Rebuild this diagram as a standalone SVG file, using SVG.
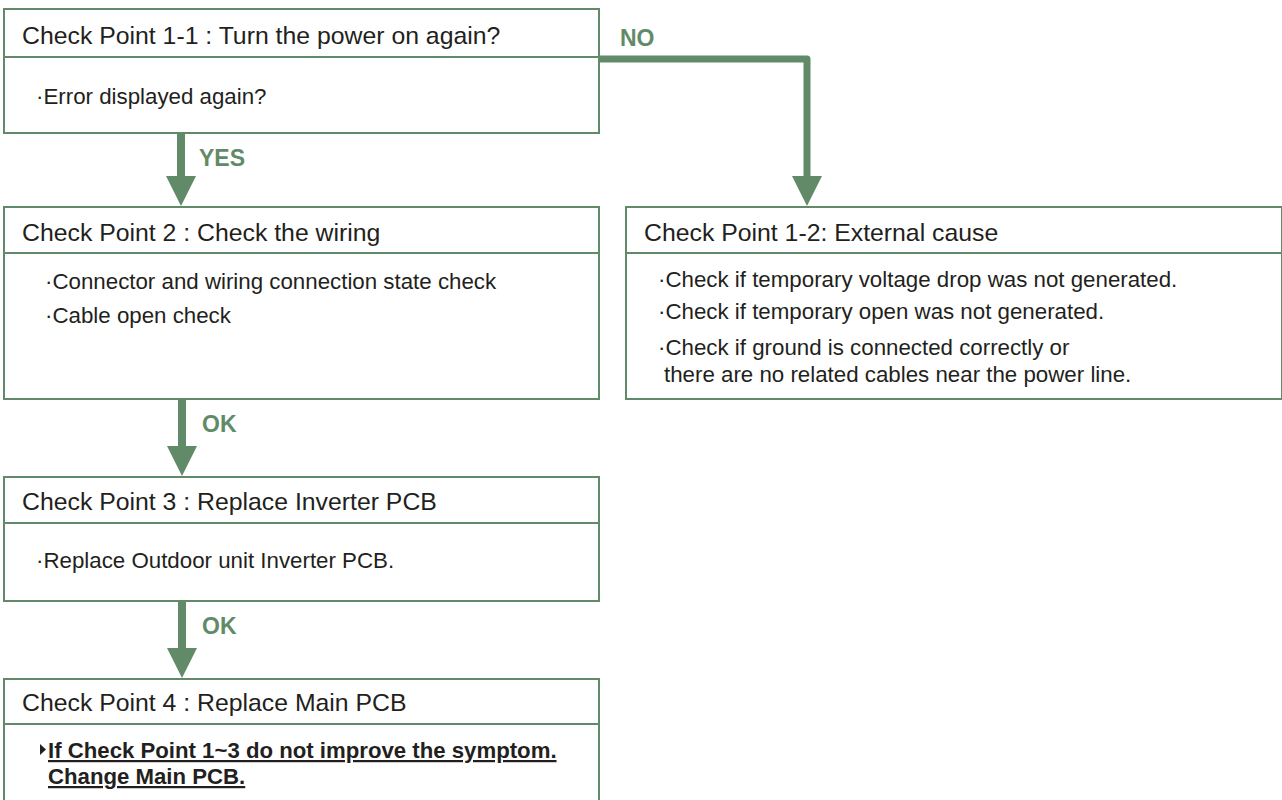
<svg xmlns="http://www.w3.org/2000/svg" width="1282" height="800" viewBox="0 0 1282 800">
  <style>
    .box { fill: #ffffff; stroke: #618b68; stroke-width: 2; }
    .div { stroke: #618b68; stroke-width: 2; }
    .head { font-family: "Liberation Sans", Arial, sans-serif; font-size: 24.8px; fill: #231f20; }
    .body { font-family: "Liberation Sans", Arial, sans-serif; font-size: 22.3px; fill: #231f20; }
    .strong { font-family: "Liberation Sans", Arial, sans-serif; font-size: 22.2px; font-weight: bold; fill: #231f20; text-decoration: underline; }
    .lbl { font-family: "Liberation Sans", Arial, sans-serif; font-size: 23px; font-weight: bold; fill: #618b68; }
    .shaft { stroke: #618b68; stroke-width: 8; fill: none; }
    .tip { fill: #618b68; }
  </style>
  <rect width="1282" height="800" fill="#ffffff"/>

  <!-- connectors -->
  <g id="connectors">
    <!-- YES: 1-1 to 2 -->
    <line class="shaft" x1="181" y1="133" x2="181" y2="177"/>
    <polygon class="tip" points="166,176 196,176 181,206"/>
    <text class="lbl" x="199" y="166">YES</text>
    <!-- NO: 1-1 to 1-2 -->
    <path d="M599,59 H807 V177" fill="none" stroke="#618b68" stroke-width="7" stroke-linejoin="round"/>
    <polygon class="tip" points="792,176 822,176 807,206"/>
    <text class="lbl" x="620" y="46">NO</text>
    <!-- OK: 2 to 3 -->
    <line class="shaft" x1="182" y1="399" x2="182" y2="447"/>
    <polygon class="tip" points="167,446 197,446 182,476"/>
    <text class="lbl" x="202" y="432">OK</text>
    <!-- OK: 3 to 4 -->
    <line class="shaft" x1="182" y1="601" x2="182" y2="649"/>
    <polygon class="tip" points="167,648 197,648 182,678"/>
    <text class="lbl" x="202" y="634">OK</text>
  </g>

  <!-- Check Point 1-1 -->
  <g id="cp1-1">
    <rect class="box" x="4" y="9" width="595" height="124"/>
    <line class="div" x1="4" y1="57" x2="599" y2="57"/>
    <text class="head" x="22" y="44">Check Point 1-1 : Turn the power on again?</text>
    <text class="body" x="36" y="104">·Error displayed again?</text>
  </g>

  <!-- Check Point 2 -->
  <g id="cp2">
    <rect class="box" x="4" y="207" width="595" height="192"/>
    <line class="div" x1="4" y1="253" x2="599" y2="253"/>
    <text class="head" x="22" y="241">Check Point 2 : Check the wiring</text>
    <text class="body" x="45" y="289">·Connector and wiring connection state check</text>
    <text class="body" x="45" y="323">·Cable open check</text>
  </g>

  <!-- Check Point 1-2 -->
  <g id="cp1-2">
    <rect class="box" x="626" y="207" width="656" height="192"/>
    <line class="div" x1="626" y1="253" x2="1282" y2="253"/>
    <text class="head" x="644" y="241">Check Point 1-2: External cause</text>
    <text class="body" x="658" y="287">·Check if temporary voltage drop was not generated.</text>
    <text class="body" x="658" y="319">·Check if temporary open was not generated.</text>
    <text class="body" x="658" y="355">·Check if ground is connected correctly or</text>
    <text class="body" x="664" y="382">there are no related cables near the power line.</text>
  </g>

  <!-- Check Point 3 -->
  <g id="cp3">
    <rect class="box" x="4" y="477" width="595" height="124"/>
    <line class="div" x1="4" y1="523" x2="599" y2="523"/>
    <text class="head" x="22" y="510">Check Point 3 : Replace Inverter PCB</text>
    <text class="body" x="36" y="568">·Replace Outdoor unit Inverter PCB.</text>
  </g>

  <!-- Check Point 4 -->
  <g id="cp4">
    <rect class="box" x="4" y="679" width="595" height="140"/>
    <line class="div" x1="4" y1="724" x2="599" y2="724"/>
    <text class="head" x="22" y="711">Check Point 4 : Replace Main PCB</text>
    <polygon points="40,744 40,755 46,749.5" fill="#231f20"/>
    <text class="strong" x="48" y="758">If Check Point 1~3 do not improve the symptom.</text>
    <text class="strong" x="48" y="784">Change Main PCB.</text>
  </g>
</svg>
